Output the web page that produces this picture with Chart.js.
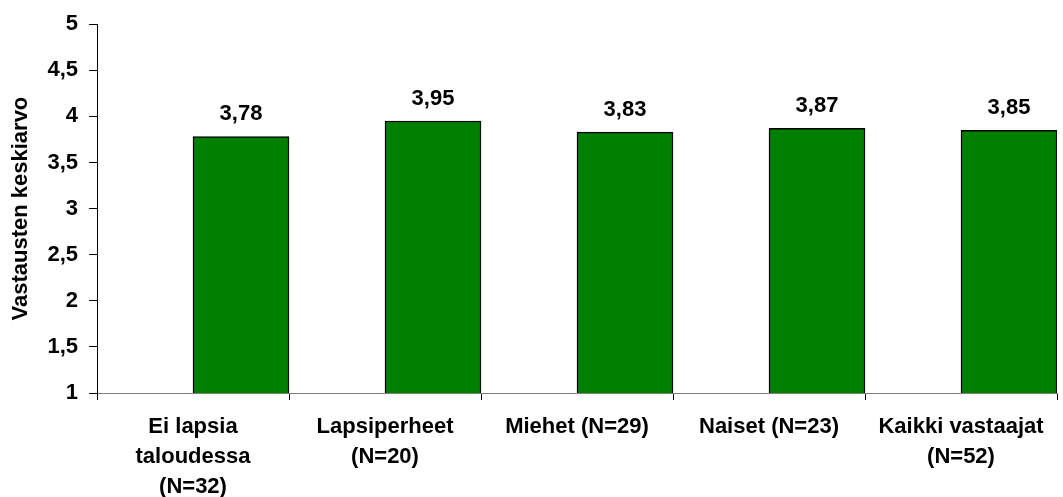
<!DOCTYPE html>
<html>
<head>
<meta charset="utf-8">
<script src="https://cdn.jsdelivr.net/npm/chart.js@4/dist/chart.umd.min.js"></script>
<style>
  html, body { margin: 0; padding: 0; background: #fff; }
</style>
</head>
<body>
<canvas id="myChart" width="1063" height="497"></canvas>
<script>
// category labels, wrapped the way they are shown under the axis
var categories = [
  ['Ei lapsia', 'taloudessa', '(N=32)'],
  ['Lapsiperheet', '(N=20)'],
  'Miehet (N=29)',
  'Naiset (N=23)',
  ['Kaikki vastaajat', '(N=52)']
];
// average answer per group
var means = [3.78, 3.95, 3.83, 3.87, 3.85];
// empty first series keeps the bars in the right half of each group
var emptySeries = [null, null, null, null, null];

var yMin = 1, yMax = 5, yStep = 0.5;
var fontFamily = '"Liberation Sans", Arial, sans-serif';

function fi(v) {
  return String(v).replace('.', ',');
}

// value labels above the bars
var valueLabels = {
  id: 'valueLabels',
  afterDatasetsDraw: function(chart) {
    var ctx = chart.ctx;
    var meta = chart.getDatasetMeta(1);
    ctx.save();
    ctx.font = 'bold 22px ' + fontFamily;
    ctx.fillStyle = '#000';
    ctx.textAlign = 'center';
    ctx.textBaseline = 'alphabetic';
    meta.data.forEach(function(bar, i) {
      ctx.fillText(fi(means[i].toFixed(2)), bar.x, bar.y - 16.5);
    });
    ctx.restore();
  }
};

var config = {
  type: 'bar',
  data: {
    labels: categories,
    datasets: [{
      label: '',
      data: emptySeries,
      backgroundColor: '#008000'
    }, {
      label: 'Keskiarvo',
      data: means,
      backgroundColor: '#008000',
      borderColor: '#000',
      borderWidth: 1.5,
      borderSkipped: false
    }]
  },
  options: {
    responsive: false,
    animation: false,
    devicePixelRatio: 1,
    categoryPercentage: 1,
    barPercentage: 1,
    layout: {
      padding: { left: 0, top: 23, right: 6, bottom: 0 }
    },
    plugins: {
      legend: { display: false },
      tooltip: { enabled: false }
    },
    scales: {
      x: {
        grid: {
          offset: true,
          drawOnChartArea: false,
          drawTicks: true,
          tickLength: 7,
          color: '#000'
        },
        border: { color: '#808080', width: 1 },
        ticks: {
          autoSkip: false,
          maxRotation: 0,
          minRotation: 0,
          padding: 12,
          color: '#000',
          font: { family: fontFamily, size: 22, weight: 'bold', lineHeight: 30 / 22 }
        },
        afterFit: function(scale) { scale.height = 104; }
      },
      y: {
        min: yMin,
        max: yMax,
        grid: {
          drawOnChartArea: false,
          drawTicks: true,
          tickLength: 8,
          color: '#000'
        },
        border: { color: '#000', width: 1 },
        ticks: {
          stepSize: yStep,
          padding: 11,
          color: '#000',
          font: { family: fontFamily, size: 22, weight: 'bold' },
          callback: function(v) { return fi(v); }
        },
        title: {
          display: true,
          text: 'Vastausten keskiarvo',
          color: '#000',
          padding: { top: 8, bottom: 0 },
          font: { family: fontFamily, size: 22, weight: 'bold' }
        },
        afterFit: function(scale) { scale.width = 97; }
      }
    }
  },
  plugins: [valueLabels]
};

var myChart = new Chart(document.getElementById('myChart'), config);
</script>
</body>
</html>
